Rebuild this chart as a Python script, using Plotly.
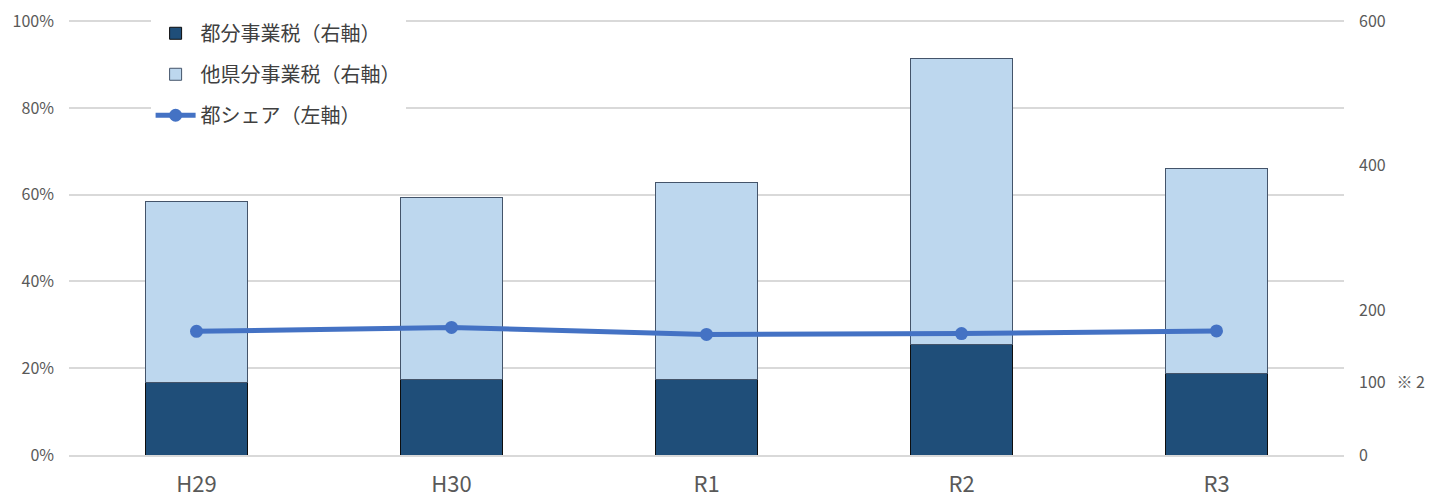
import plotly.graph_objects as go

categories = ["H29", "H30", "R1", "R2", "R3"]
tokyo_tax = [100, 104.6, 104.6, 153.5, 113.4]          # 都分事業税（右軸）
other_tax = [250, 252.2, 271.6, 394.5, 283.2]          # 他県分事業税（右軸）
tokyo_share = [0.285, 0.294, 0.278, 0.280, 0.286]      # 都シェア（左軸）

right_tickvals = [0, 100, 200, 400, 600]
right_ticktext = ["0", "100   ※ 2", "200", "400", "600"]
left_tickvals = [0, 0.2, 0.4, 0.6, 0.8, 1.0]
left_ticktext = ["0%", "20%", "40%", "60%", "80%", "100%"]

FONT = "Noto Sans CJK JP"
HEADROOM = 1.005  # small headroom so the 100% gridline is drawn

fig = go.Figure()
fig.add_trace(go.Bar(
    x=categories, y=tokyo_tax, name="都分事業税（右軸）",
    marker=dict(color="#1F4E79", line=dict(color="#0D0D0D", width=1)),
    width=0.4, yaxis="y", legendgroup="a",
))
fig.add_trace(go.Bar(
    x=categories, y=other_tax, name="他県分事業税（右軸）",
    marker=dict(color="#BDD7EE", line=dict(color="#44546A", width=1)),
    width=0.4, yaxis="y", legendgroup="b",
))
fig.add_trace(go.Scatter(
    x=categories, y=tokyo_share, name="都シェア（左軸）",
    mode="lines+markers",
    line=dict(color="#4472C4", width=5),
    marker=dict(color="#4472C4", size=13),
    yaxis="y2", legendgroup="c",
))

fig.update_layout(
    width=1440, height=492,
    margin=dict(l=61, r=104, t=11, b=45, autoexpand=False),
    barmode="stack",
    plot_bgcolor="white", paper_bgcolor="white",
    font=dict(family=FONT, color="#595959"),
    xaxis=dict(
        type="category", automargin=False,
        showline=True, linecolor="#D9D9D9", linewidth=2,
        showgrid=False,
        tickfont=dict(size=22, color="#595959"),
        ticklabelstandoff=9, ticklabeloverflow="allow",
    ),
    yaxis=dict(
        side="right", range=[0, 600 * HEADROOM], automargin=False,
        tickmode="array", tickvals=right_tickvals, ticktext=right_ticktext,
        showgrid=False, zeroline=False,
        tickfont=dict(size=16, color="#595959"),
        ticklabelstandoff=14, ticklabeloverflow="allow",
    ),
    yaxis2=dict(
        side="left", overlaying="y", range=[0, HEADROOM], automargin=False,
        tickmode="array", tickvals=left_tickvals, ticktext=left_ticktext,
        showgrid=True, gridcolor="#D9D9D9", gridwidth=1.5,
        zeroline=False,
        tickfont=dict(size=16, color="#595959"),
        ticklabelstandoff=14, ticklabeloverflow="allow",
    ),
    legend=dict(
        x=0.064, y=1.012, xanchor="left", yanchor="top",
        bgcolor="white",
        font=dict(size=20, color="#404040", family=FONT),
        tracegroupgap=12, itemwidth=40,
        traceorder="grouped",
    ),
    showlegend=True,
)

fig.write_html("out.html")
